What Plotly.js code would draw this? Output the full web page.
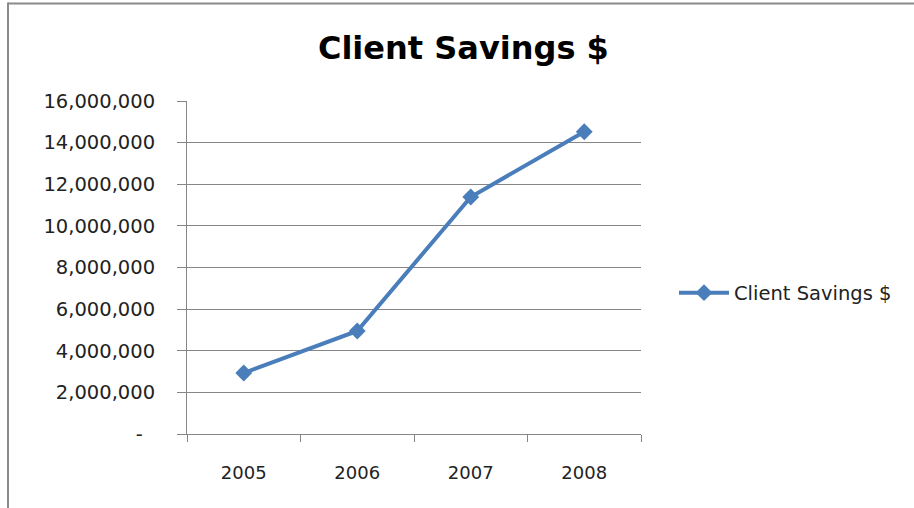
<!DOCTYPE html>
<html>
<head>
<meta charset="utf-8">
<script src="https://cdn.plot.ly/plotly-3.0.1.min.js"></script>
<style>
  html, body { margin: 0; padding: 0; background: #ffffff; }
  #chart { width: 914px; height: 508px; }
</style>
</head>
<body>
<div id="chart"></div>
<script>
const years = ["2005", "2006", "2007", "2008"];
const savings = [2930000, 4950000, 11390000, 14520000];
const yTickVals = [0, 2000000, 4000000, 6000000, 8000000, 10000000, 12000000, 14000000, 16000000];
const yTickText = ["-\u00a0\u00a0", "2,000,000", "4,000,000", "6,000,000", "8,000,000", "10,000,000", "12,000,000", "14,000,000", "16,000,000"];
const seriesName = "Client Savings $";
const chartTitle = "Client Savings $";

const W = 914, H = 508;
const L = 187, R = 641, T = 101, B = 434;
const px = x => (x - L) / (R - L);
const py = y => (B - y) / (B - T);

const blue = "#4a7ebb";
const gray = "#868686";
const font = "DejaVu Sans";

const trace = {
  x: years,
  y: savings,
  name: seriesName,
  type: "scatter",
  mode: "lines+markers",
  line: { color: blue, width: 4 },
  marker: { symbol: "diamond", size: 13, color: blue },
  showlegend: true
};

const layout = {
  width: W, height: H,
  margin: { l: L, r: W - R, t: T, b: H - B, pad: 0 },
  paper_bgcolor: "#ffffff",
  plot_bgcolor: "#ffffff",
  title: {
    text: chartTitle,
    font: { family: font, size: 32, color: "#000000", weight: "bold" },
    x: 0.507, xanchor: "center",
    y: 1 - 48 / H, yanchor: "middle"
  },
  xaxis: {
    type: "category",
    range: [-0.5, 3.5],
    tickson: "boundaries",
    ticks: "outside",
    ticklen: 7,
    tickcolor: gray,
    tickwidth: 1,
    showline: true,
    linecolor: gray,
    linewidth: 1,
    showgrid: false,
    ticklabelstandoff: 22,
    tickfont: { family: font, size: 18, color: "#222222" },
    fixedrange: true
  },
  yaxis: {
    range: [0, 16000000],
    tickvals: yTickVals,
    ticktext: yTickText,
    ticks: "outside",
    ticklen: 9,
    tickcolor: gray,
    tickwidth: 1,
    showline: true,
    linecolor: gray,
    linewidth: 1,
    showgrid: true,
    gridcolor: gray,
    gridwidth: 1,
    zeroline: false,
    ticklabelstandoff: 18,
    tickfont: { family: font, size: 19.5, color: "#222222" },
    fixedrange: true
  },
  legend: {
    x: px(674), xanchor: "left",
    y: py(293), yanchor: "middle",
    itemwidth: 50,
    font: { family: font, size: 19.5, color: "#222222" },
    bgcolor: "rgba(0,0,0,0)"
  },
  shapes: [
    { type: "line", xref: "paper", yref: "paper",
      x0: px(8), x1: px(916), y0: py(3.5), y1: py(3.5),
      line: { color: "#8a8a8a", width: 2 } },
    { type: "line", xref: "paper", yref: "paper",
      x0: px(8), x1: px(8), y0: py(2.5), y1: py(510),
      line: { color: "#8a8a8a", width: 2 } }
  ]
};

Plotly.newPlot("chart", [trace], layout, { displayModeBar: false, staticPlot: true });
</script>
</body>
</html>
